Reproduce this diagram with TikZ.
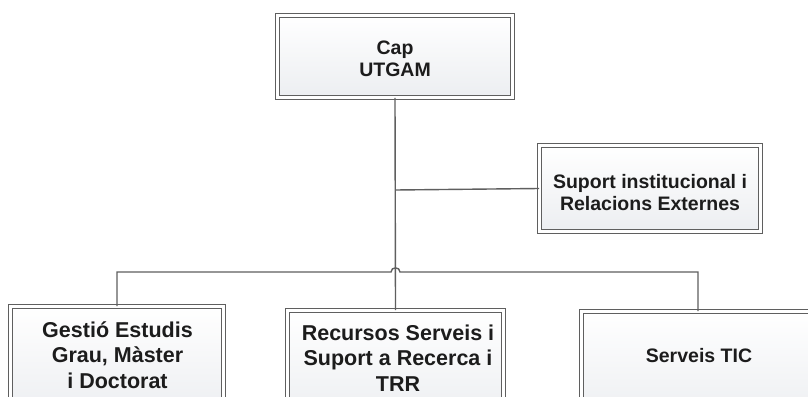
\documentclass[tikz,border=0pt]{standalone}
\usepackage{fontspec}
\setmainfont{Liberation Sans}
\usetikzlibrary{shadows}
\definecolor{lc}{RGB}{95,95,95}
\definecolor{bfill}{RGB}{236,238,241}
\definecolor{tc}{RGB}{28,28,28}
\tikzset{
  orgbox/.style={draw=lc, line width=1pt, double=white, double distance=3.4pt,
    top color=white, bottom color=bfill, inner sep=0pt,
    drop shadow={shadow xshift=2.5pt, shadow yshift=-2.5pt, opacity=0.16, fill=black}},
  conn/.style={draw=lc, line width=1.4pt},
  smalltxt/.style={align=center, text=tc, font=\fontsize{19.5}{22}\selectfont\bfseries, inner sep=0pt},
  bigtxt/.style={align=center, text=tc, font=\fontsize{21.5}{25.5}\selectfont\bfseries, inner sep=0pt}
}
\begin{document}
\begin{tikzpicture}[x=1pt,y=-1pt]
\useasboundingbox (0,0) rectangle (808,396);
\clip (0,0) rectangle (808,396);
\fill[white] (0,0) rectangle (808,396);
% boxes (outer size minus 5.4 for double line)
\node[orgbox, minimum width=234.6pt, minimum height=81.6pt] (cap) at (395,56.5) {};
\node[orgbox, minimum width=220.6pt, minimum height=85.6pt] (sup) at (650,188.5) {};
\node[orgbox, minimum width=212.6pt, minimum height=110.6pt] (gest) at (117,362) {};
\node[orgbox, minimum width=215.6pt, minimum height=110.6pt] (rec) at (395.5,366) {};
\node[orgbox, minimum width=232.6pt, minimum height=110.6pt] (tic) at (698,367) {};
% texts
\node[smalltxt] (captxt) at (395,59) {Cap\\UTGAM};
\node[smalltxt] (suptxt) at (650,193) {Suport institucional i\\Relacions Externes};
\node[bigtxt] (gesttxt) at (117.5,355) {Gestió Estudis\\Grau, Màster\\i Doctorat};
\node[bigtxt] (rectxt) at (398,358) {Recursos Serveis i\\Suport a Recerca i\\TRR};
\node[smalltxt] (tictxt) at (699,356) {Serveis TIC};
% connectors
\coordinate (supj) at (395.5,190);
\coordinate (hopL) at (391,272);
\coordinate (hopR) at (400,272);
\draw[conn] (cap.south) -- (rec.north);
\draw[conn] (supj) -- (sup.west);
\draw[conn] (gest.north) |- (hopL) .. controls (391,266.5) and (400,266.5) .. (hopR) -| (tic.north);
\end{tikzpicture}
\end{document}
